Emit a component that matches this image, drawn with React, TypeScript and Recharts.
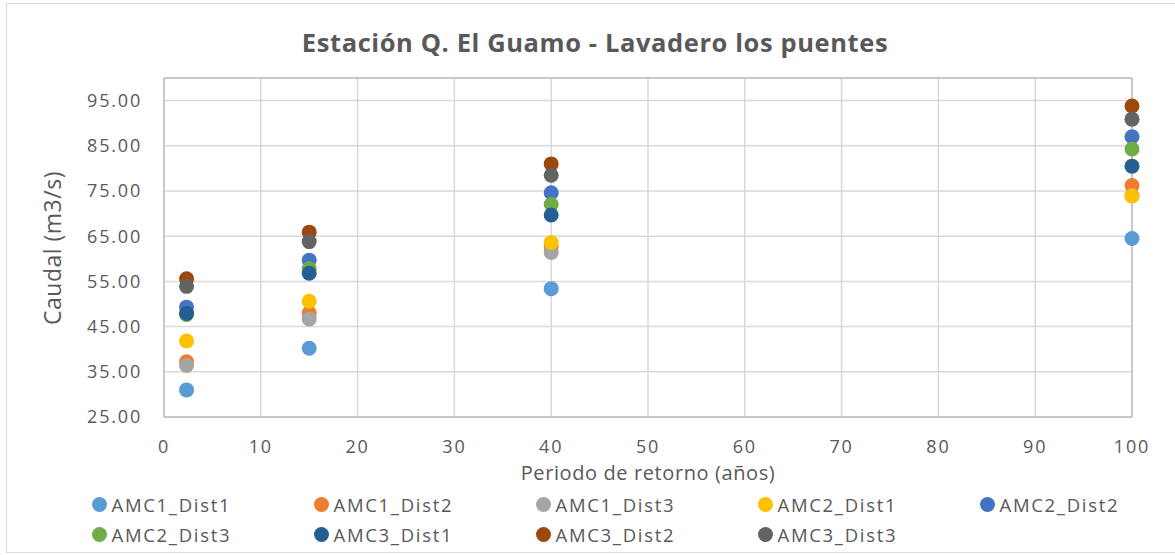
import {
    ScatterChart,
    Scatter,
    XAxis,
    YAxis,
    CartesianGrid,
    ReferenceLine
} from 'recharts';

// return periods (years)
const periods = [2.33, 15, 40, 100];

// Caudal (m3/s) per series
const amc1Dist1 = [31.0, 40.2, 53.4, 64.5];
const amc1Dist2 = [37.2, 48.0, 62.6, 76.2];
const amc1Dist3 = [36.4, 46.7, 61.4, 74.0];
const amc2Dist1 = [41.8, 50.6, 63.6, 73.9];
const amc2Dist2 = [49.3, 59.7, 74.6, 87.0];
const amc2Dist3 = [47.7, 57.8, 72.0, 84.3];
const amc3Dist1 = [47.9, 56.8, 69.7, 80.5];
const amc3Dist2 = [55.6, 65.9, 81.0, 93.8];
const amc3Dist3 = [53.9, 63.8, 78.5, 90.9];

const xTicks = [0, 10, 20, 30, 40, 50, 60, 70, 80, 90, 100];
const yTicks = [25, 35, 45, 55, 65, 75, 85, 95];

const SERIES = [
    { name: 'AMC1_Dist1', values: amc1Dist1, color: '#5B9BD5' },
    { name: 'AMC1_Dist2', values: amc1Dist2, color: '#ED7D31' },
    { name: 'AMC1_Dist3', values: amc1Dist3, color: '#A5A5A5' },
    { name: 'AMC2_Dist1', values: amc2Dist1, color: '#FFC000' },
    { name: 'AMC2_Dist2', values: amc2Dist2, color: '#4472C4' },
    { name: 'AMC2_Dist3', values: amc2Dist3, color: '#70AD47' },
    { name: 'AMC3_Dist1', values: amc3Dist1, color: '#255E91' },
    { name: 'AMC3_Dist2', values: amc3Dist2, color: '#9E480E' },
    { name: 'AMC3_Dist3', values: amc3Dist3, color: '#636363' }
];

const FONT = '"Open Sans", sans-serif';
const TEXT = '#595959';

const tickStyle = { fill: TEXT, fontSize: 18, fontFamily: FONT, letterSpacing: 1.8 };

const Dot = (props: any) => {
    const { cx, cy, fill } = props;
    if (cx == null || cy == null) return null;
    return <circle cx={cx} cy={cy} r={7.5} fill={fill} />;
};

export default function App() {
    return (
        <div style={{ position: 'absolute', left: 0, top: 0, width: 1175, height: 555, background: '#fff', overflow: 'hidden', fontFamily: FONT }}>
            {/* chart frame */}
            <div style={{ position: 'absolute', left: 6, top: 3, width: 1180, height: 550, border: '1px solid #d9d9d9', boxSizing: 'border-box' }} />

            {/* title */}
            <div style={{ position: 'absolute', left: 595, top: 25, transform: 'translateX(-50%)', whiteSpace: 'nowrap', fontSize: 25.5, fontWeight: 700, color: TEXT, letterSpacing: 0.6 }}>
                Estación Q. El Guamo - Lavadero los puentes
            </div>

            <div style={{ position: 'absolute', left: 0, top: 0 }}>
                <ScatterChart width={1175} height={555} margin={{ top: 78, right: 43, bottom: 78, left: 64 }}>
                    <CartesianGrid stroke="#d9d9d9" strokeWidth={1.5} />
                    <XAxis
                        type="number"
                        dataKey="x"
                        domain={[0, 100]}
                        ticks={xTicks}
                        height={60}
                        axisLine={{ stroke: '#bfbfbf', strokeWidth: 1.5 }}
                        tickLine={false}
                        tickSize={18}
                        tickMargin={5}
                        tick={tickStyle}
                        interval={0}
                    />
                    <YAxis
                        type="number"
                        dataKey="y"
                        domain={[25, 100]}
                        ticks={yTicks}
                        width={100}
                        axisLine={{ stroke: '#bfbfbf', strokeWidth: 1.5 }}
                        tickLine={false}
                        tickSize={20}
                        tickMargin={2}
                        tick={tickStyle}
                        tickFormatter={(v: number) => v.toFixed(2)}
                        interval={0}
                    />
                    <ReferenceLine y={100} stroke="#bfbfbf" strokeWidth={1.5} />
                    <ReferenceLine x={100} stroke="#bfbfbf" strokeWidth={1.5} />
                    {SERIES.map((s) => (
                        <Scatter
                            key={s.name}
                            name={s.name}
                            data={periods.map((p, i) => ({ x: p, y: s.values[i] }))}
                            fill={s.color}
                            shape={<Dot />}
                            isAnimationActive={false}
                        />
                    ))}
                </ScatterChart>
            </div>

            {/* axis titles */}
            <div style={{ position: 'absolute', left: 648, top: 463, lineHeight: '20px', transform: 'translateX(-50%)', whiteSpace: 'nowrap', fontSize: 20, color: TEXT, letterSpacing: 0.6 }}>
                Periodo de retorno (años)
            </div>
            <div style={{ position: 'absolute', left: 52, top: 248, lineHeight: '26px', transform: 'translate(-50%, -50%) rotate(-90deg)', whiteSpace: 'nowrap', fontSize: 23, color: TEXT, letterSpacing: 0.5 }}>
                Caudal (m3/s)
            </div>

            {/* legend */}
            {SERIES.map((s, i) => {
                const col = i % 5;
                const row = Math.floor(i / 5);
                const cx = 99 + col * 222;
                const cy = 504 + row * 30;
                return (
                    <div key={s.name} style={{ position: 'absolute', left: cx - 7.5, top: cy - 13, height: 26, display: 'flex', alignItems: 'center', whiteSpace: 'nowrap' }}>
                        <span style={{ width: 15, height: 15, borderRadius: '50%', background: s.color, display: 'inline-block', marginRight: 5 }} />
                        <span style={{ fontSize: 18.5, color: TEXT, letterSpacing: 1.7 }}>{s.name}</span>
                    </div>
                );
            })}
        </div>
    );
}
